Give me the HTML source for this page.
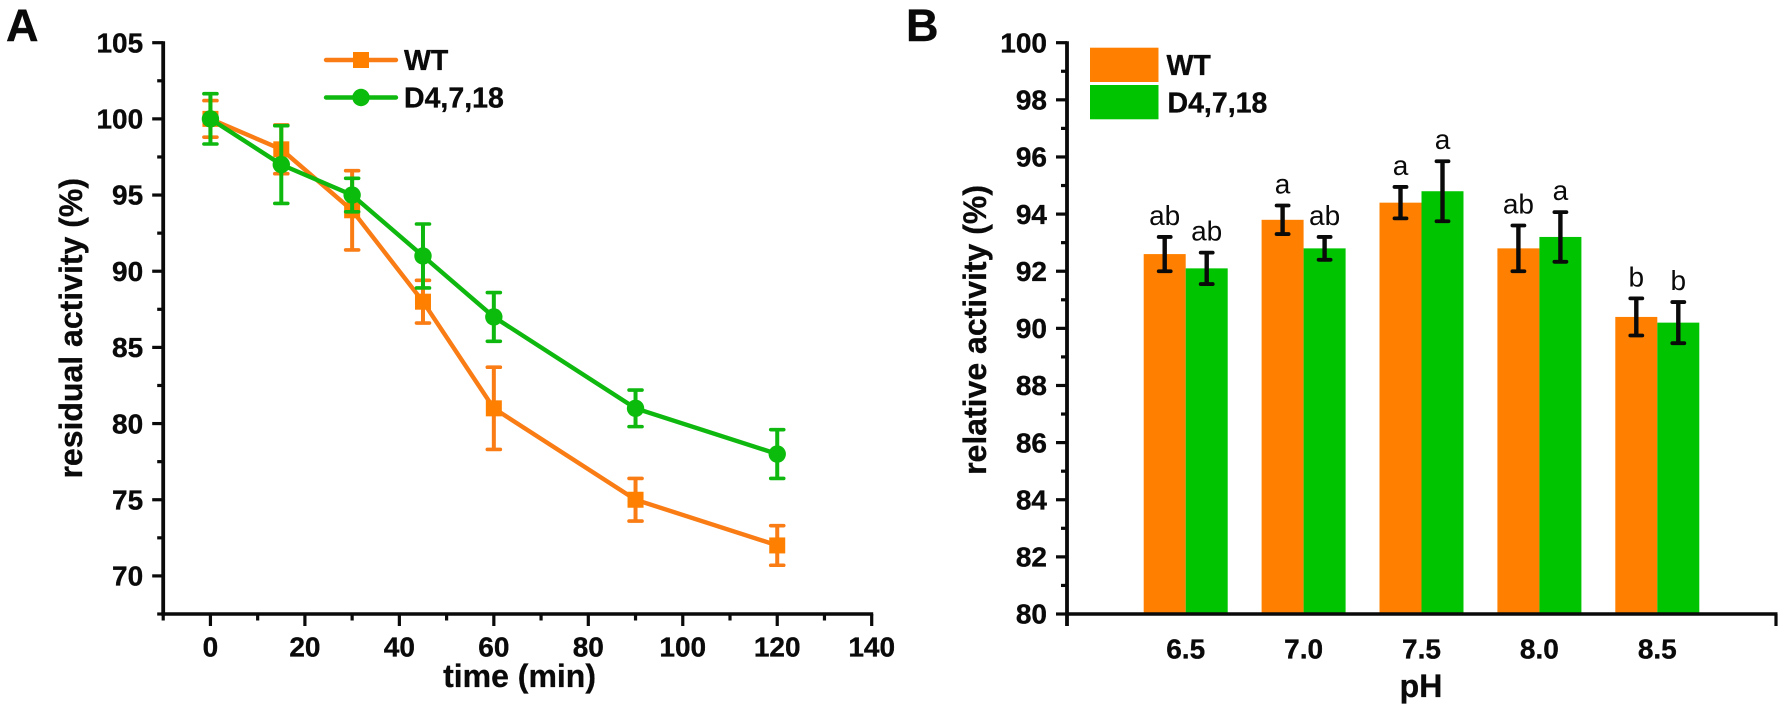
<!DOCTYPE html>
<html lang="en">
<head>
<meta charset="utf-8">
<title>Residual and relative activity of WT and D4,7,18</title>
<style>
  html, body { margin: 0; padding: 0; background: #fff; }
  #figure { display: block; width: 1784px; height: 713px; }
  text { font-family: "Liberation Sans", Arial, sans-serif; fill: #0a0a0a; }
  .tick { font-size: 28px; font-weight: bold; stroke: #0a0a0a; stroke-width: 0.35px; }
  .title { font-size: 32px; font-weight: bold; stroke: #0a0a0a; stroke-width: 0.3px; }
  .legend { font-size: 28.5px; font-weight: bold; stroke: #0a0a0a; stroke-width: 0.35px; }
  .panel { font-size: 45px; font-weight: bold; stroke: #0a0a0a; stroke-width: 0.4px; }
  .sig { font-size: 28px; }
</style>
</head>
<body>
<svg id="figure" xmlns="http://www.w3.org/2000/svg" width="1784" height="713" viewBox="0 0 1784 713">
  <rect width="1784" height="713" fill="#fff"/>

  <g id="panel-a">
    <text class="panel" x="6" y="41">A</text>
    <g id="a-series"></g>
    <g id="a-axes"></g>
    <text class="title" x="596" y="687" text-anchor="end">time (min)</text>
    <text class="title" transform="translate(82,178) rotate(-90)" text-anchor="end">residual activity (%)</text>
    <g>
      <line x1="326" y1="60" x2="396" y2="60" stroke="#F97C14" stroke-width="4.4" stroke-linecap="round"/>
      <rect x="353" y="52" width="16" height="16" fill="#FF8000"/>
      <text class="legend" x="404" y="70">WT</text>
      <line x1="326" y1="97.5" x2="396" y2="97.5" stroke="#0FB80F" stroke-width="4.4" stroke-linecap="round"/>
      <circle cx="361" cy="97.5" r="8.7" fill="#0CBC0C"/>
      <text class="legend" x="404" y="107.5">D4,7,18</text>
    </g>
  </g>

  <g id="panel-b">
    <text class="panel" x="906" y="41">B</text>
    <g id="b-series"></g>
    <g id="b-axes"></g>
    <text class="title" x="1421" y="697" text-anchor="middle">pH</text>
    <text class="title" transform="translate(986,185) rotate(-90)" text-anchor="end">relative activity (%)</text>
    <g>
      <rect x="1090" y="47.7" width="68.5" height="34.3" fill="#FF8000"/>
      <text class="legend" x="1166.5" y="75">WT</text>
      <rect x="1090" y="85" width="68.5" height="34.3" fill="#00C400"/>
      <text class="legend" x="1167.5" y="112.7">D4,7,18</text>
    </g>
  </g>
</svg>

<script>
/* Panel A data */
const timeValues = [0, 15, 30, 45, 60, 90, 120];
const wtResidual = [100, 98, 94, 88, 81, 75, 72];
const wtResidualErr = [1.2, 1.6, 2.6, 1.4, 2.7, 1.4, 1.3];
const dResidual = [100, 97, 95, 91, 87, 81, 78];
const dResidualErr = [1.65, 2.55, 1.1, 2.1, 1.6, 1.2, 1.6];
const aXMajorTicks = [0, 20, 40, 60, 80, 100, 120, 140];
const aXMinorTicks = [-10, 10, 30, 50, 70, 90, 110, 130];
const aYMajorTicks = [70, 75, 80, 85, 90, 95, 100, 105];
const aYMinorTicks = [67.5, 72.5, 77.5, 82.5, 87.5, 92.5, 97.5, 102.5];

/* Panel B data */
const phCategories = ['6.5', '7.0', '7.5', '8.0', '8.5'];
const wtRelative = [92.6, 93.8, 94.4, 92.8, 90.4];
const wtRelativeErr = [0.6, 0.5, 0.55, 0.8, 0.65];
const wtLetters = ['ab', 'a', 'a', 'ab', 'b'];
const dRelative = [92.1, 92.8, 94.8, 93.2, 90.2];
const dRelativeErr = [0.55, 0.4, 1.05, 0.87, 0.72];
const dLetters = ['ab', 'ab', 'a', 'a', 'b'];
const bYMajorTicks = [80, 82, 84, 86, 88, 90, 92, 94, 96, 98, 100];
const bYMinorTicks = [81, 83, 85, 87, 89, 91, 93, 95, 97, 99];

const NS = 'http://www.w3.org/2000/svg';
const INK = '#0a0a0a';
const AXIS_BOTTOM = 614;
const AXIS_TOP = 42.7;

function linearScale(d0, d1, r0, r1) {
  return function (v) { return r0 + (v - d0) * (r1 - r0) / (d1 - d0); };
}
const ax = linearScale(-10, 140, 163.2, 871.7);
const ay = linearScale(67.5, 105, AXIS_BOTTOM, AXIS_TOP);
const by = linearScale(80, 100, AXIS_BOTTOM, AXIS_TOP);
const bCat = function (i) { return 1185.7 + 117.9 * i; };
const BAR_WIDTH = 42;

function shape(parent, tag, attrs) {
  const el = document.createElementNS(NS, tag);
  for (const k in attrs) el.setAttribute(k, attrs[k]);
  parent.appendChild(el);
  return el;
}
function lineEl(parent, x1, y1, x2, y2, stroke, width, cap) {
  return shape(parent, 'line', { x1: x1, y1: y1, x2: x2, y2: y2, stroke: stroke, 'stroke-width': width, 'stroke-linecap': cap || 'butt' });
}
function labelEl(parent, x, y, anchor, cls, str) {
  const t = shape(parent, 'text', { x: x, y: y, 'text-anchor': anchor, class: cls });
  t.textContent = str;
  return t;
}

/* ---------- Panel A axes ---------- */
const aAxes = document.getElementById('a-axes');
const aYLine = lineEl(aAxes, ax(-10), AXIS_TOP - 1.5, ax(-10), AXIS_BOTTOM + 1.7, INK, 3.8);


const aXLine = lineEl(aAxes, ax(-10) - 1.8, AXIS_BOTTOM, ax(140) + 1.5, AXIS_BOTTOM, INK, 3.6);



aYMajorTicks.forEach(function (v) {
  const tick = lineEl(aAxes, ax(-10) - 11, ay(v), ax(-10), ay(v), INK, 3.2);
  
  
  const lab = labelEl(aAxes, ax(-10) - 20, ay(v) + 9.7, 'end', 'tick', String(v));
  
  
});
aYMinorTicks.forEach(function (v) {
  const tick = lineEl(aAxes, ax(-10) - 6, ay(v), ax(-10), ay(v), INK, 3.2);
  
  
});
aXMajorTicks.forEach(function (v) {
  const tick = lineEl(aAxes, ax(v), AXIS_BOTTOM, ax(v), AXIS_BOTTOM + 12, INK, 3.2);
  
  
  const lab = labelEl(aAxes, ax(v), 656.5, 'middle', 'tick', String(v));
  
  
});
aXMinorTicks.forEach(function (v) {
  const tick = lineEl(aAxes, ax(v), AXIS_BOTTOM, ax(v), AXIS_BOTTOM + 6.5, INK, 3.2);
  
  
});

/* ---------- Panel A series ---------- */
const aSeries = document.getElementById('a-series');

function polylinePoints(xs, ys) {
  return xs.map(function (x, i) { return ax(x).toFixed(1) + ',' + ay(ys[i]).toFixed(1); }).join(' ');
}

const wtLine = shape(aSeries, 'polyline', { points: polylinePoints(timeValues, wtResidual), fill: 'none', stroke: '#F97C14', 'stroke-width': 4.4, 'stroke-linejoin': 'round' });



timeValues.forEach(function (t, i) {
  const x = ax(t);
  const top = ay(wtResidual[i] + wtResidualErr[i]);
  const bot = ay(wtResidual[i] - wtResidualErr[i]);
  const stem = lineEl(aSeries, x, top, x, bot, '#F97C14', 4);
  
  
  const capT = lineEl(aSeries, x - 6.5, top, x + 6.5, top, '#F97C14', 3.6, 'round');
  
  
  const capB = lineEl(aSeries, x - 6.5, bot, x + 6.5, bot, '#F97C14', 3.6, 'round');
  
  
  const mark = shape(aSeries, 'rect', { x: x - 8, y: ay(wtResidual[i]) - 8, width: 16, height: 16, fill: '#FF8000' });
  
  
});

const dLine = shape(aSeries, 'polyline', { points: polylinePoints(timeValues, dResidual), fill: 'none', stroke: '#0FB80F', 'stroke-width': 4.4, 'stroke-linejoin': 'round' });



timeValues.forEach(function (t, i) {
  const x = ax(t);
  const top = ay(dResidual[i] + dResidualErr[i]);
  const bot = ay(dResidual[i] - dResidualErr[i]);
  const stem = lineEl(aSeries, x, top, x, bot, '#0FB80F', 4);
  
  
  const capT = lineEl(aSeries, x - 6.5, top, x + 6.5, top, '#0FB80F', 3.6, 'round');
  
  
  const capB = lineEl(aSeries, x - 6.5, bot, x + 6.5, bot, '#0FB80F', 3.6, 'round');
  
  
  const mark = shape(aSeries, 'circle', { cx: x, cy: ay(dResidual[i]), r: 8.7, fill: '#0CBC0C' });
  
  
});

/* ---------- Panel B bars ---------- */
const bSeries = document.getElementById('b-series');

function errorI(parent, x, top, bot) {
  const g = shape(parent, 'g', {});
  lineEl(g, x, top, x, bot, INK, 4.4);
  lineEl(g, x - 6, top, x + 6, top, INK, 3.8, 'round');
  lineEl(g, x - 6, bot, x + 6, bot, INK, 3.8, 'round');
  return g;
}

phCategories.forEach(function (c, i) {
  const cx = bCat(i);

  const wtBar = shape(bSeries, 'rect', { x: cx - BAR_WIDTH, y: by(wtRelative[i]), width: BAR_WIDTH, height: by(80) - by(wtRelative[i]), fill: '#FF8000' });
  
  

  const dBar = shape(bSeries, 'rect', { x: cx, y: by(dRelative[i]), width: BAR_WIDTH, height: by(80) - by(dRelative[i]), fill: '#00C400' });
  
  

  const wtTop = by(wtRelative[i] + wtRelativeErr[i]);
  const wtBot = by(wtRelative[i] - wtRelativeErr[i]);
  const wtErr = errorI(bSeries, cx - BAR_WIDTH / 2, wtTop, wtBot);
  
  

  const dTop = by(dRelative[i] + dRelativeErr[i]);
  const dBot = by(dRelative[i] - dRelativeErr[i]);
  const dErr = errorI(bSeries, cx + BAR_WIDTH / 2, dTop, dBot);
  
  

  const wtSig = labelEl(bSeries, cx - BAR_WIDTH / 2, wtTop - 12, 'middle', 'sig', wtLetters[i]);
  
  

  const dSig = labelEl(bSeries, cx + BAR_WIDTH / 2, dTop - 12, 'middle', 'sig', dLetters[i]);
  
  

  const catLab = labelEl(bSeries, cx, 658.5, 'middle', 'tick', c);
  
  
});

/* ---------- Panel B axes ---------- */
const bAxes = document.getElementById('b-axes');
const B_LEFT = 1067;
const B_RIGHT = 1776;
const bYLine = lineEl(bAxes, B_LEFT, AXIS_TOP - 1.5, B_LEFT, AXIS_BOTTOM + 12, INK, 3.8);


const bXLine = lineEl(bAxes, B_LEFT, AXIS_BOTTOM, B_RIGHT + 1.5, AXIS_BOTTOM, INK, 3.6);


const bXEnd = lineEl(bAxes, B_RIGHT, AXIS_BOTTOM, B_RIGHT, AXIS_BOTTOM + 12, INK, 3.2);



bYMajorTicks.forEach(function (v) {
  const tick = lineEl(bAxes, B_LEFT - 11, by(v), B_LEFT, by(v), INK, 3.2);
  
  
  const lab = labelEl(bAxes, B_LEFT - 20, by(v) + 9.7, 'end', 'tick', String(v));
  
  
});
bYMinorTicks.forEach(function (v) {
  const tick = lineEl(bAxes, B_LEFT - 6, by(v), B_LEFT, by(v), INK, 3.2);
  
  
});
</script>
</body>
</html>
